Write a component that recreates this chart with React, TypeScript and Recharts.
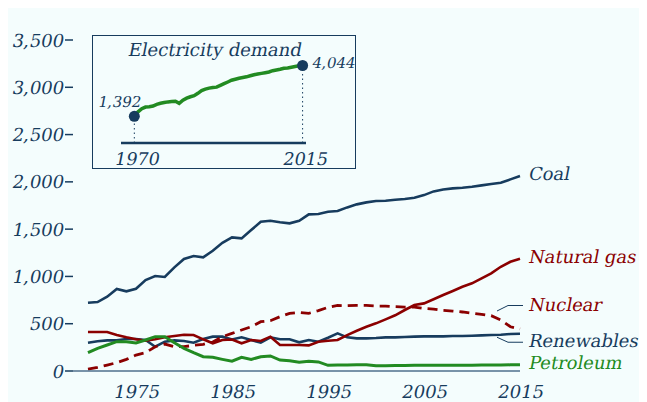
import React from 'react';
import { LineChart, Line, XAxis, YAxis, ReferenceLine } from 'recharts';

const years = [
  1970, 1971, 1972, 1973, 1974, 1975, 1976, 1977, 1978, 1979,
  1980, 1981, 1982, 1983, 1984, 1985, 1986, 1987, 1988, 1989,
  1990, 1991, 1992, 1993, 1994, 1995, 1996, 1997, 1998, 1999,
  2000, 2001, 2002, 2003, 2004, 2005, 2006, 2007, 2008, 2009,
  2010, 2011, 2012, 2013, 2014, 2015,
];

const coal = [
  722, 729, 785, 867, 842, 870, 962, 1004, 994, 1096,
  1184, 1216, 1202, 1272, 1356, 1413, 1402, 1490, 1578, 1589,
  1572, 1561, 1589, 1656, 1660, 1684, 1691, 1730, 1762, 1783,
  1797, 1800, 1811, 1818, 1832, 1860, 1899, 1920, 1931, 1938,
  1948, 1963, 1977, 1990, 2026, 2061,
];

const naturalGas = [
  412, 412, 412, 380, 356, 335, 320, 335, 356, 370,
  384, 380, 335, 293, 328, 333, 293, 328, 317, 363,
  275, 275, 275, 271, 310, 320, 328, 380, 426, 468,
  504, 546, 589, 645, 698, 715, 758, 803, 846, 891,
  927, 980, 1033, 1102, 1155, 1187,
];

const nuclear = [
  21, 39, 63, 88, 123, 169, 194, 257, 285, 257,
  257, 271, 282, 306, 363, 398, 433, 468, 521, 532,
  574, 610, 620, 610, 638, 673, 694, 690, 694, 694,
  687, 687, 680, 676, 676, 662, 655, 641, 634, 624,
  610, 599, 585, 539, 468, 444,
];

const renewables = [
  299, 314, 324, 324, 338, 338, 328, 257, 310, 324,
  317, 299, 338, 363, 363, 333, 356, 328, 299, 356,
  335, 335, 303, 328, 310, 352, 398, 356, 345, 345,
  349, 356, 356, 359, 363, 366, 366, 366, 370, 370,
  373, 377, 380, 384, 391, 394,
];

const petroleum = [
  194, 240, 275, 310, 310, 296, 328, 363, 363, 299,
  240, 194, 151, 145, 123, 103, 145, 123, 151, 159,
  116, 109, 92, 102, 96, 60, 64, 64, 67, 67,
  56, 56, 58, 58, 60, 60, 60, 60, 62, 62,
  62, 63, 63, 64, 65, 67,
];

const demand = [
  1392, 1625, 1786, 1876, 1894, 1930, 2019, 2073, 2109, 2145,
  2163, 2180, 2073, 2234, 2342, 2413, 2467, 2593, 2736, 2808,
  2862, 2897, 2915, 3005, 3094, 3184, 3274, 3327, 3381, 3417,
  3453, 3507, 3560, 3596, 3632, 3668, 3704, 3775, 3811, 3847,
  3901, 3919, 3954, 3990, 4026, 4044,
];

const xTicks = [1975, 1985, 1995, 2005, 2015];
const yTicks = [0, 500, 1000, 1500, 2000, 2500, 3000, 3500];
const insetTicks = [1970, 2015];

const NAVY = '#173c5e';
const RED = '#8b0000';
const GREEN = '#228b22';
const BG = '#f4fdfd';
const FONT = '"DejaVu Serif", serif';
const SLANT = -11;

const rows = years.map((year, i) => ({
  year,
  coal: coal[i],
  naturalGas: naturalGas[i],
  nuclear: nuclear[i],
  renewables: renewables[i],
  petroleum: petroleum[i],
}));

const demandRows = years.map((year, i) => ({ year, demand: demand[i] }));

const fmt = (v: number) => v.toLocaleString('en-US');

// the serif italic face is missing, so slant the upright one; (x, y) is the baseline
const SkewText = ({ x, y, anchor = 'start', color, size = 18, children }: any) => (
  <g transform={`translate(${x},${y}) skewX(${SLANT})`}>
    <text x={0} y={0} textAnchor={anchor} fill={color} fontFamily={FONT} fontSize={size}>
      {children}
    </text>
  </g>
);

const MainXTick = (props: any) => (
  <SkewText x={props.x} y={props.y + 13} anchor="middle" color={NAVY} size={18}>
    {props.payload.value}
  </SkewText>
);

const MainYTick = (props: any) => (
  <SkewText x={props.x} y={props.y + 6.5} anchor="end" color={NAVY} size={18}>
    {fmt(props.payload.value)}
  </SkewText>
);

const InsetXTick = (props: any) => (
  <SkewText x={props.x + 2} y={props.y + 12} anchor="middle" color={NAVY} size={17.5}>
    {props.payload.value}
  </SkewText>
);

// label at the end of each series, optional leader line
const endLabel = (name: string, color: string, dy: number, leader?: 'up' | 'down') =>
  (props: any) => {
    const { cx, cy, index } = props;
    if (index !== years.length - 1) return <g key={`d-${name}-${index}`} />;
    let path = null;
    if (leader === 'up') {
      path = `M${cx - 23} ${cy - 18} L${cx - 12} ${cy - 23.5} L${cx + 3} ${cy - 23.5}`;
    } else if (leader === 'down') {
      path = `M${cx - 23} ${cy + 3.5} L${cx - 12} ${cy + 8.5} L${cx + 3} ${cy + 8.5}`;
    }
    return (
      <g key={`d-${name}-${index}`}>
        {path && <path d={path} stroke={NAVY} strokeWidth={1} fill="none" />}
        <SkewText x={cx + 8} y={cy + dy} color={color}>
          {name}
        </SkewText>
      </g>
    );
  };

const insetDot = (props: any) => {
  const { cx, cy, index } = props;
  const last = demand.length - 1;
  if (index !== 0 && index !== last) return <g key={`i-${index}`} />;
  return (
    <g key={`i-${index}`}>
      <circle cx={cx} cy={cy} r={5.5} fill={NAVY} />
      {index === 0 ? (
        <SkewText x={cx + 6} y={cy - 9.5} anchor="end" color={NAVY} size={15}>
          {fmt(demand[0])}
        </SkewText>
      ) : (
        <SkewText x={cx + 9} y={cy + 2} color={NAVY} size={15}>
          {fmt(demand[last])}
        </SkewText>
      )}
    </g>
  );
};

const Inset = () => (
  <div
    style={{
      position: 'absolute',
      left: 84,
      top: 27,
      width: 264,
      height: 134,
      boxSizing: 'border-box',
      border: `1.5px solid ${NAVY}`,
      background: BG,
    }}
  >
    <div
      style={{
        position: 'absolute',
        left: 0,
        top: 3,
        width: 245,
        lineHeight: '21px',
        textAlign: 'center',
        color: NAVY,
        fontFamily: FONT,
        fontSize: 18,
        transform: `skewX(${SLANT}deg)`,
        whiteSpace: 'nowrap',
      }}
    >
      Electricity demand
    </div>
    <div style={{ position: 'absolute', left: 0, top: 0 }}>
      <LineChart
        width={290}
        height={142}
        data={demandRows}
        margin={{ top: 29.5, right: 77, bottom: 11, left: 28 }}
      >
        <XAxis
          dataKey="year"
          type="number"
          domain={[1966.44, 2015.91]}
          ticks={insetTicks}
          height={24}
          axisLine={{ stroke: NAVY, strokeWidth: 2.5 }}
          tickLine={false}
          tickMargin={4}
          tick={<InsetXTick />}
        />
        <YAxis hide domain={[0, 4044]} />
        <ReferenceLine
          segment={[{ x: years[0], y: 0 }, { x: years[0], y: demand[0] }]}
          stroke={NAVY}
          strokeDasharray="1.5 3"
        />
        <ReferenceLine
          segment={[
            { x: years[years.length - 1], y: 0 },
            { x: years[years.length - 1], y: demand[demand.length - 1] },
          ]}
          stroke={NAVY}
          strokeDasharray="1.5 3"
        />
        <Line
          dataKey="demand"
          stroke={GREEN}
          strokeWidth={3.5}
          dot={insetDot}
          activeDot={false}
          isAnimationActive={false}
        />
      </LineChart>
    </div>
  </div>
);

export default function App() {
  return (
    <div style={{ position: 'relative', width: 639, height: 394, background: BG }}>
      <LineChart
        width={639}
        height={394}
        data={rows}
        margin={{ top: 32, right: 127, bottom: 0, left: 0 }}
      >
        <XAxis
          dataKey="year"
          type="number"
          domain={[1968.44, 2015]}
          ticks={xTicks}
          height={31}
          axisLine={{ stroke: '#4f6f8c', strokeWidth: 1.5 }}
          tickLine={false}
          tickMargin={8}
          tick={<MainXTick />}
        />
        <YAxis
          domain={[0, 3500]}
          ticks={yTicks}
          width={65}
          axisLine={false}
          tickSize={8}
          tickMargin={2}
          tickLine={{ stroke: NAVY, strokeWidth: 1.5 }}
          tick={<MainYTick />}
        />
        <Line
          dataKey="coal"
          stroke={NAVY}
          strokeWidth={2.6}
          dot={endLabel('Coal', NAVY, 4)}
          activeDot={false}
          isAnimationActive={false}
        />
        <Line
          dataKey="renewables"
          stroke={NAVY}
          strokeWidth={2.6}
          dot={endLabel('Renewables', NAVY, 13, 'down')}
          activeDot={false}
          isAnimationActive={false}
        />
        <Line
          dataKey="naturalGas"
          stroke={RED}
          strokeWidth={2.6}
          dot={endLabel('Natural gas', RED, 4.3)}
          activeDot={false}
          isAnimationActive={false}
        />
        <Line
          dataKey="nuclear"
          stroke={RED}
          strokeWidth={2.8}
          strokeDasharray="10 6"
          dot={endLabel('Nuclear', RED, -18, 'up')}
          activeDot={false}
          isAnimationActive={false}
        />
        <Line
          dataKey="petroleum"
          stroke={GREEN}
          strokeWidth={3}
          dot={endLabel('Petroleum', GREEN, 4)}
          activeDot={false}
          isAnimationActive={false}
        />
      </LineChart>
      <Inset />
    </div>
  );
}
